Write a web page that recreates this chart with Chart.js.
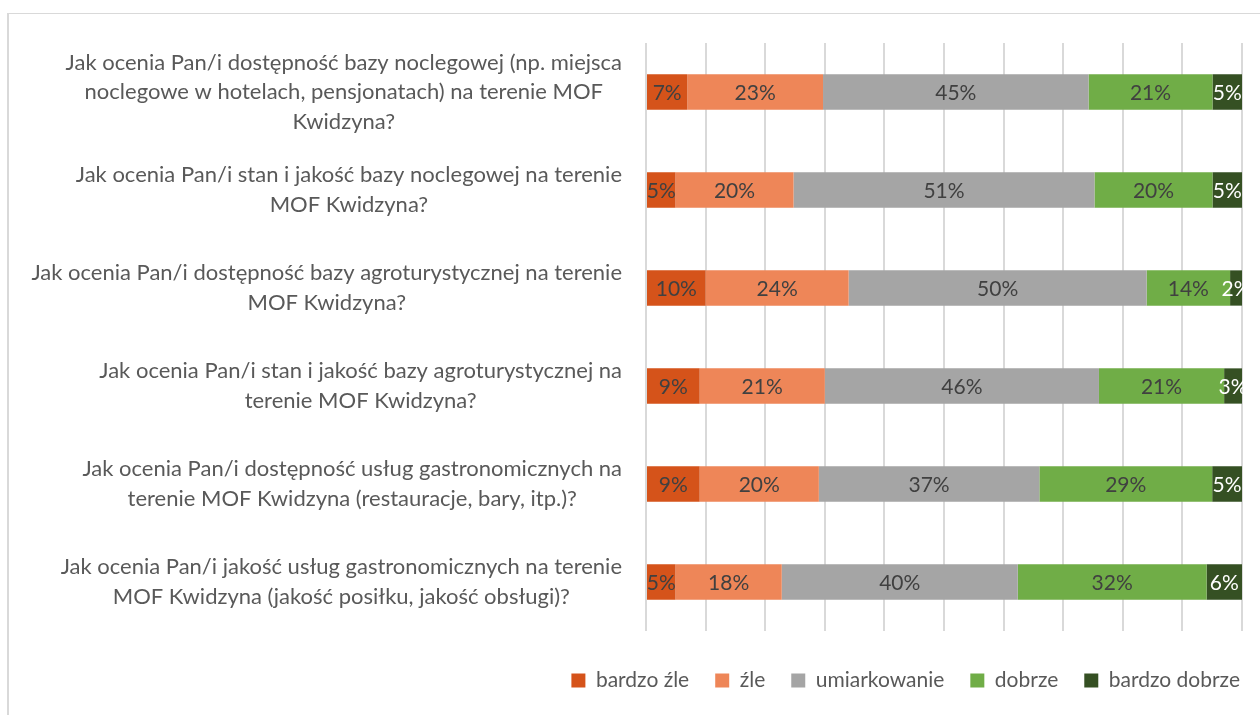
<!DOCTYPE html>
<html>
<head>
<meta charset="utf-8">
<script src="https://cdn.jsdelivr.net/npm/chart.js@4/dist/chart.umd.min.js"></script>
<style>
body { margin: 0; background: #fff; }
#frame { position: absolute; left: 7px; top: 13px; right: 0; bottom: 0; border-left: 2px solid #d9d9d9; border-top: 1px solid #d9d9d9; }
#wrap { position: absolute; left: 0; top: 0; width: 1260px; height: 715px; }
</style>
</head>
<body>
<div id="frame"></div>
<div id="wrap"><canvas id="chart"></canvas></div>
<script>
// questions (y categories), split into lines as in the original
let questions = [
    ['Jak ocenia Pan/i dostępność bazy noclegowej (np. miejsca', 'noclegowe w hotelach, pensjonatach) na terenie MOF', 'Kwidzyna?'],
    ['Jak ocenia Pan/i stan i jakość bazy noclegowej na terenie', 'MOF Kwidzyna?'],
    ['Jak ocenia Pan/i dostępność bazy agroturystycznej na terenie', 'MOF Kwidzyna?'],
    ['Jak ocenia Pan/i stan i jakość bazy agroturystycznej na', 'terenie MOF Kwidzyna?'],
    ['Jak ocenia Pan/i dostępność usług gastronomicznych na', 'terenie MOF Kwidzyna (restauracje, bary, itp.)?'],
    ['Jak ocenia Pan/i jakość usług gastronomicznych na terenie', 'MOF Kwidzyna (jakość posiłku, jakość obsługi)?']
]

// answers in percent, one array per answer
let bardzoZle    = [7, 5, 10, 9, 9, 5]
let zle          = [23, 20, 24, 21, 20, 18]
let umiarkowanie = [45, 51, 50, 46, 37, 40]
let dobrze       = [21, 20, 14, 21, 29, 32]
let bardzoDobrze = [5, 5, 2, 3, 5, 6]

let seriesNames = ['bardzo źle', 'źle', 'umiarkowanie', 'dobrze', 'bardzo dobrze']
let seriesValues = [bardzoZle, zle, umiarkowanie, dobrze, bardzoDobrze]
let seriesColors = ['#d5531a', '#ee8658', '#a5a5a5', '#70ad47', '#355023']

let fontName = 'Lato'
let textColor = '#595959'

// 100% stacked: each row is scaled to its own sum
let rowSums = questions.map((q, i) => seriesValues.reduce((s, arr) => s + arr[i], 0))

let datasets = seriesValues.map(function(values, k) {
    return {
        label: seriesNames[k],
        data: values.map((v, i) => v / rowSums[i] * 100),
        raw: values,
        backgroundColor: seriesColors[k],
        categoryPercentage: 1,
        barPercentage: 0.36
    }
})

// question text drawn to the left of the bars, lines centred in each block
let questionLabels = {
    id: 'questionLabels',
    afterDraw(chart) {
        let ctx = chart.ctx
        let yScale = chart.scales.y
        let area = chart.chartArea
        let lineH = 29.5
        ctx.save()
        ctx.font = '22px ' + fontName
        ctx.fillStyle = textColor
        ctx.textAlign = 'center'
        ctx.textBaseline = 'middle'
        questions.forEach(function(lines, i) {
            let y = yScale.getPixelForValue(i)
            let widest = Math.max(...lines.map(l => ctx.measureText(l).width))
            let cx = area.left - 24 - widest / 2
            let y0 = y - (lines.length - 1) * lineH / 2
            lines.forEach((l, j) => ctx.fillText(l, cx, y0 + j * lineH))
        })
        ctx.restore()
    }
}

// percent labels in the middle of every segment
let segmentLabels = {
    id: 'segmentLabels',
    afterDatasetsDraw(chart) {
        let ctx = chart.ctx
        let area = chart.chartArea
        ctx.save()
        ctx.beginPath()
        ctx.rect(area.left - 10, area.top, area.width + 11, area.height)
        ctx.clip()
        ctx.font = '21px ' + fontName
        ctx.textAlign = 'center'
        ctx.textBaseline = 'middle'
        chart.data.datasets.forEach(function(ds, k) {
            ctx.fillStyle = (k === 4) ? '#ffffff' : '#404040'
            chart.getDatasetMeta(k).data.forEach(function(bar, i) {
                ctx.fillText(ds.raw[i] + '%', (bar.x + bar.base) / 2, bar.y + 1)
            })
        })
        ctx.restore()
    }
}

// legend sits a bit lower and further right than Chart.js puts it
let legendShift = {
    id: 'legendShift',
    afterLayout(chart) {
        let lg = chart.legend
        lg.left += 24; lg.right += 24
        lg.top += 13; lg.bottom += 13
    }
}

let chart = new Chart(document.getElementById('chart'), {
    type: 'bar',
    data: { labels: questions, datasets: datasets },
    options: {
        indexAxis: 'y',
        responsive: true,
        maintainAspectRatio: false,
        animation: false,
        layout: { padding: { left: 9, right: 18, top: 43, bottom: 27 } },
        scales: {
            x: {
                stacked: true,
                min: 0,
                max: 100,
                ticks: { display: false, stepSize: 10 },
                grid: { color: '#d9d9d9', lineWidth: 2, drawTicks: false },
                border: { display: false }
            },
            y: {
                stacked: true,
                ticks: { display: false },
                grid: { display: false },
                border: { display: false },
                afterFit: function(scale) { scale.width = 637 }
            }
        },
        plugins: {
            legend: {
                position: 'bottom',
                align: 'end',
                labels: {
                    boxWidth: 14,
                    boxHeight: 14,
                    padding: 26,
                    color: textColor,
                    font: { family: fontName, size: 21 }
                }
            },
            tooltip: { enabled: false }
        }
    },
    plugins: [questionLabels, segmentLabels, legendShift]
})
</script>
</body>
</html>
